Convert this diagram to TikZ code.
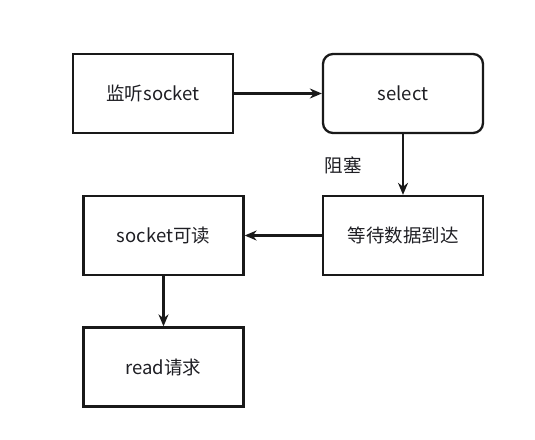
\documentclass[tikz,border=0pt]{standalone}
\usepackage{fontspec}
\setmainfont{Noto Sans CJK SC}
\usetikzlibrary{arrows.meta,positioning}
\definecolor{boxline}{rgb}{0.10,0.10,0.10}
\definecolor{boxtext}{rgb}{0.12,0.12,0.14}

\begin{document}
\begin{tikzpicture}[x=1pt, y=-1pt, every node/.style={font=\fontsize{18.5}{22}\selectfont, text=boxtext},
  procbox/.style={draw=boxline, line width=2.3pt, minimum width=160pt, minimum height=79pt},
  flow/.style={draw=boxline, line width=2.3pt, -{Stealth[length=12pt,width=10pt]}}]
  % Canvas
  \useasboundingbox (0,0) rectangle (535,439);
  % Top row
  \node[procbox] (listen) at (153,93.5) {监听socket};
  \node[procbox, rounded corners=10pt] (select) at (403,93.5) {select};
  % Middle row
  \node[procbox] (wait) at (403,235.5) {等待数据到达};
  \node[procbox] (readable) at (163.5,235.5) {socket可读};
  % Bottom
  \node[procbox] (readreq) at (163.5,367) {read请求};
  % Connectors
  \draw[flow] (listen) -- (select);
  \draw[flow] (select) -- (wait);
  \node (block) at (343,165) {阻塞};
  \draw[flow] (wait) -- (readable);
  \draw[flow] (readable) -- (readreq);
\end{tikzpicture}
\end{document}
